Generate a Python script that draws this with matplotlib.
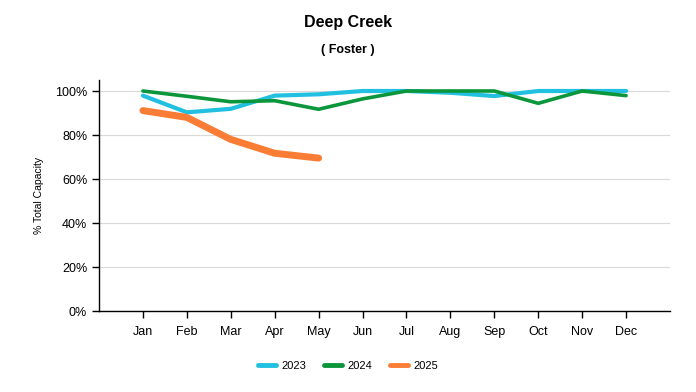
import matplotlib.pyplot as plt
import numpy as np

plt.rcParams['font.family'] = ['Liberation Sans', 'DejaVu Sans']

months = ['Jan', 'Feb', 'Mar', 'Apr', 'May', 'Jun', 'Jul', 'Aug', 'Sep', 'Oct', 'Nov', 'Dec']
pct_2023 = [97.9, 90.3, 91.9, 97.9, 98.5, 100.0, 100.0, 99.2, 97.7, 100.0, 100.0, 100.0]
pct_2024 = [100.0, 97.6, 95.1, 95.6, 91.7, 96.4, 100.0, 100.0, 100.0, 94.4, 100.0, 97.9]
pct_2025 = [91.1, 88.0, 78.0, 71.7, 69.5]

series = [
    ('2023', pct_2023, '#22c0e0', 3.0),
    ('2024', pct_2024, '#0b963c', 2.6),
    ('2025', pct_2025, '#fb7d35', 5.0),
]

fig = plt.figure(figsize=(6.96, 3.92), dpi=100)
ax = fig.add_axes([99 / 696, 1 - 311 / 392, 571 / 696, 231 / 392])

x = np.arange(len(months))
for name, vals, color, lw in series:
    ax.plot(x[:len(vals)], vals, color=color, lw=lw, label=name,
            solid_capstyle='round', solid_joinstyle='round')

ax.set_xlim(-1, 12)
ax.set_ylim(0, 105)
ax.set_xticks(x)
ax.set_xticklabels(months)
ax.set_yticks(np.arange(0, 101, 20))
ax.set_yticklabels([f'{v}%' for v in range(0, 101, 20)])
ax.tick_params(labelsize=9, length=5, width=1, colors='black')
ax.tick_params(axis='x', pad=6)
ax.grid(axis='y', color='#d9d9d9', lw=0.8)
ax.set_axisbelow(True)
for s in ['top', 'right']:
    ax.spines[s].set_visible(False)
ax.spines['left'].set_linewidth(1)
ax.spines['bottom'].set_linewidth(1)

ax.set_ylabel('% Total Capacity', fontsize=7.5, labelpad=8)

fig.text(0.5, 1 - 22 / 392, 'Deep Creek', ha='center', va='center',
         fontsize=11.5, fontweight='bold')
fig.text(0.5, 1 - 50 / 392, '( Foster )', ha='center', va='center',
         fontsize=9, fontweight='bold')

leg = fig.legend(loc='center', bbox_to_anchor=(348 / 696, 1 - 366 / 392), ncol=3,
                 frameon=False, fontsize=8, handlelength=1.6, columnspacing=1.6,
                 handletextpad=0.5)
for line in leg.get_lines():
    line.set_linewidth(3.5)

fig.savefig('out.png', dpi=100)
